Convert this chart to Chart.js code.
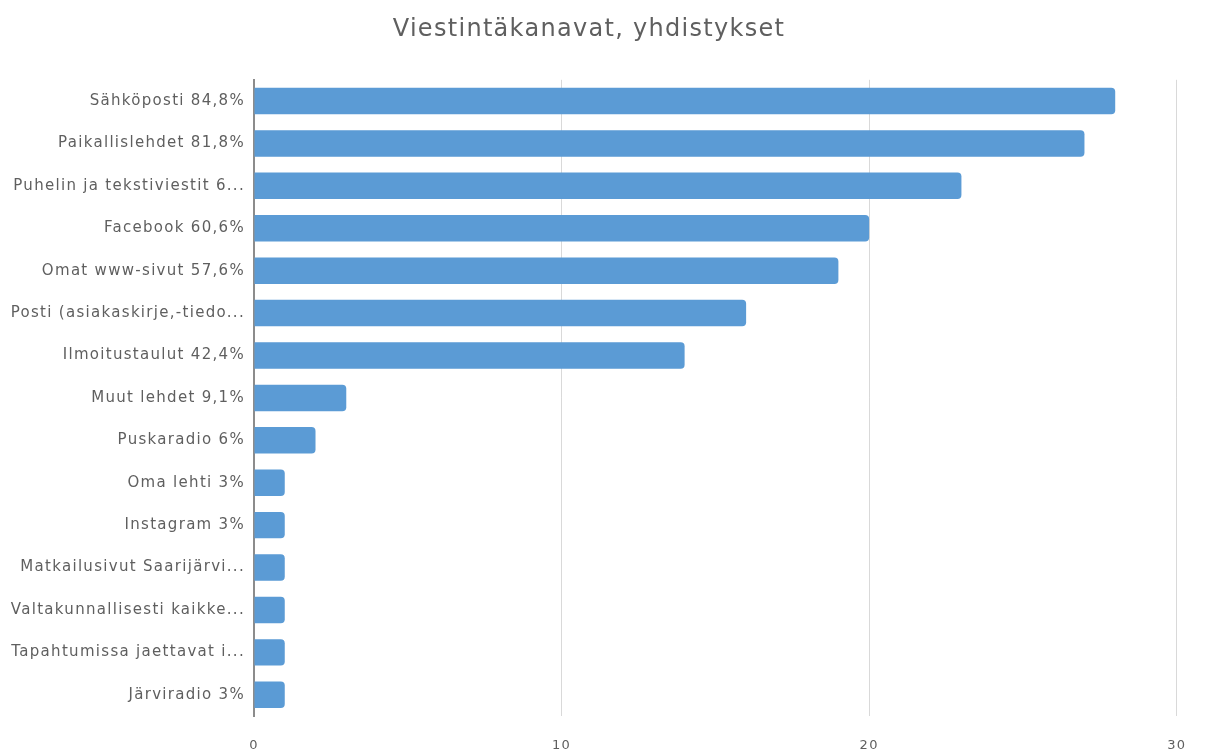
<!DOCTYPE html>
<html>
<head>
<meta charset="utf-8">
<script src="https://cdn.jsdelivr.net/npm/chart.js@4/dist/chart.umd.min.js"></script>
<style>
    html, body { margin: 0; padding: 0; background: #fff; }
    #wrap { width: 1207px; height: 756px; }
</style>
</head>
<body>
<div id="wrap"><canvas id="chart" width="1207" height="756"></canvas></div>
<script>
const categories = [
    'Sähköposti 84,8%',
    'Paikallislehdet 81,8%',
    'Puhelin ja tekstiviestit 6...',
    'Facebook 60,6%',
    'Omat www-sivut 57,6%',
    'Posti (asiakaskirje,-tiedo...',
    'Ilmoitustaulut 42,4%',
    'Muut lehdet 9,1%',
    'Puskaradio 6%',
    'Oma lehti 3%',
    'Instagram 3%',
    'Matkailusivut Saarijärvi...',
    'Valtakunnallisesti kaikke...',
    'Tapahtumissa jaettavat i...',
    'Järviradio 3%'
];
const counts = [28, 27, 23, 20, 19, 16, 14, 3, 2, 1, 1, 1, 1, 1, 1];
const xTicks = [0, 10, 20, 30];

const textColor = '#5f5f5f';
const fontFamily = "'DejaVu Sans', sans-serif";

// the original text is set a little wider than the font gives
const spacing = {
    id: 'spacing',
    beforeDraw(chart) { chart.ctx.letterSpacing = '1.3px'; }
};

const ctx = document.getElementById('chart').getContext('2d');
new Chart(ctx, {
    type: 'bar',
    data: {
        labels: categories,
        datasets: [{
            data: counts,
            backgroundColor: '#5b9bd5',
            borderRadius: 4,
            borderSkipped: 'start',
            barPercentage: 0.8,
            categoryPercentage: 0.78
        }]
    },
    plugins: [spacing],
    options: {
        indexAxis: 'y',
        responsive: false,
        animation: false,
        layout: { padding: { left: 0, right: 29, top: 0, bottom: 0 } },
        plugins: {
            legend: { display: false },
            tooltip: { enabled: false },
            title: {
                display: true,
                text: 'Viestintäkanavat, yhdistykset',
                color: textColor,
                font: { family: fontFamily, size: 24, weight: 'normal' },
                padding: { top: 15, bottom: 36 }
            }
        },
        scales: {
            x: {
                min: 0,
                max: 30,
                afterBuildTicks: scale => { scale.ticks = xTicks.map(v => ({ value: v })); },
                afterFit: scale => { scale.height = 40; },
                grid: { color: '#d9d9d9', drawTicks: false },
                border: { display: false },
                ticks: { color: textColor, font: { family: fontFamily, size: 13 }, padding: 22 }
            },
            y: {
                afterFit: scale => { scale.width = 254; },
                grid: { display: false, drawTicks: false },
                border: { display: true, color: '#8c8c8c', width: 2 },
                ticks: { color: textColor, font: { family: fontFamily, size: 15 }, padding: 9 }
            }
        }
    }
});
</script>
</body>
</html>
